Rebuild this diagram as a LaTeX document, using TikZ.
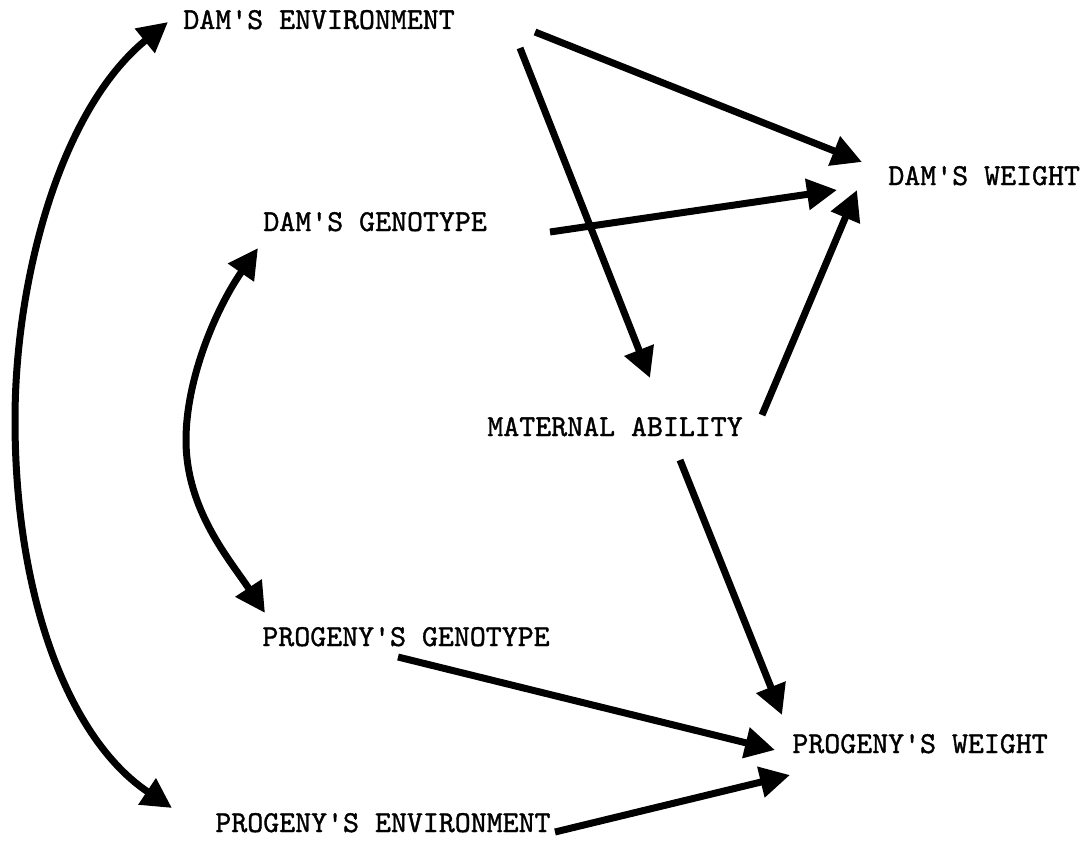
\documentclass[tikz,border=0pt]{standalone}
\usepackage{fontspec}
\newfontfamily\twfont[FakeBold=1.2]{lmmono10-regular.otf}
\usetikzlibrary{arrows.meta}
\begin{document}
\begin{tikzpicture}[x=0.5pt,y=-0.5pt,
  lbl/.style={anchor=base west,inner sep=0pt,font=\twfont\fontsize{15.2pt}{18pt}\selectfont},
  arr/.style={line width=3.5pt,-{Triangle[length=15pt,width=15pt]}},
  darr/.style={line width=3.5pt,{Triangle[length=15pt,width=15pt]}-{Triangle[length=15pt,width=15pt]}}]
\useasboundingbox (0,0) rectangle (1086,840);
\node[lbl] (denv) at (183,29) {DAM'S ENVIRONMENT};
\node[lbl] (dw) at (888,185) {DAM'S WEIGHT};
\node[lbl] (dgen) at (263,231) {DAM'S GENOTYPE};
\node[lbl] (mat) at (487,436) {MATERNAL ABILITY};
\node[lbl] (pgen) at (262,646) {PROGENY'S GENOTYPE};
\node[lbl] (pw) at (792,753) {PROGENY'S WEIGHT};
\node[lbl] (penv) at (215,832) {PROGENY'S ENVIRONMENT};
% big arc
\draw[darr] ([shift={(-15,-7)}]denv.base west) .. controls (60,110) and (15,280) .. (15,420)
  .. controls (15,600) and (70,740) .. ([shift={(-43,-24)}]penv.base west);
% small arc
\draw[darr] ([shift={(-5,17)}]dgen.base west) .. controls (215,310) and (186,380) .. (186,440)
  .. controls (186,510) and (230,560) .. ([shift={(3,-33)}]pgen.base west);
% straight arrows
\draw[arr] ([shift={(352,3)}]denv.base west) -- ([shift={(-26,-23)}]dw.base west);
\draw[arr] ([shift={(337,19)}]denv.base west) -- ([shift={(163,-58)}]mat.base west);
\draw[arr] ([shift={(287,1)}]dgen.base west) -- ([shift={(-51,5)}]dw.base west);
\draw[arr] ([shift={(275,-21)}]mat.base west) -- ([shift={(-31,5)}]dw.base west);
\draw[arr] ([shift={(193,24)}]mat.base west) -- ([shift={(-10,-38)}]pw.base west);
\draw[arr] ([shift={(136,11)}]pgen.base west) -- ([shift={(-17,-3)}]pw.base west);
\draw[arr] ([shift={(340,0)}]penv.base west) -- ([shift={(-2,22)}]pw.base west);
\end{tikzpicture}
\end{document}
